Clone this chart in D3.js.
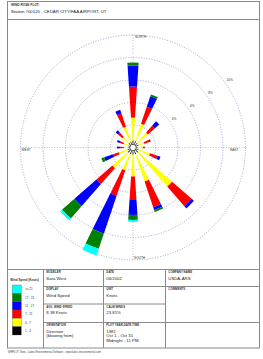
<!DOCTYPE html>
<html><head><meta charset="utf-8">
<script src="https://cdn.jsdelivr.net/npm/d3@7"></script>
<style>html,body{margin:0;padding:0;background:#fff;}svg{display:block;font-family:"Liberation Sans",Arial,sans-serif;}</style>
</head><body><svg id="c" width="263" height="359"></svg>
<script>
// ---- data ----
const directions = ["N","NNE","NE","ENE","E","ESE","SE","SSE","S","SSW","SW","WSW","W","WNW","NW","NNW"];
const speedBins = ["1 - 4","4 - 7","7 - 11","11 - 17","17 - 21",">= 21"];
const bin1to4   = [0.62,0.62,0.53,0.53,0.44,0.53,0.62,0.62,0.62,0.62,0.62,0.53,0.44,0.44,0.53,0.53];
const bin4to7   = [2.04,1.60,1.24,0.53,0.44,1.07,4.00,2.58,1.96,1.51,1.82,0.80,0.36,0.44,0.71,1.42];
const bin7to11  = [2.76,1.60,0.80,0.62,0.18,0.71,2.31,2.40,2.09,2.40,1.88,0.53,0.36,0.36,0.53,1.24];
const bin11to17 = [1.87,0.98,0.53,0.00,0.00,0.27,0.27,0.27,1.33,3.56,2.60,0.84,0.27,0.27,0.27,0.36];
const bin17to21 = [0.27,0.18,0.00,0.00,0.00,0.00,0.00,0.18,0.44,1.42,1.47,0.27,0.00,0.00,0.00,0.00];
const bin21up   = [0.00,0.00,0.00,0.00,0.00,0.00,0.00,0.00,0.18,0.62,0.22,0.00,0.00,0.00,0.00,0.00];
const ringValues = [2,4,6,8,10];
const ringLabels = ["2%","4%","6%","8%","10%"];
const compassLabels = ["NORTH","EAST","SOUTH","WEST"];
const headerTitle = "WIND ROSE PLOT:";
const headerStation = "Station #00120 - CEDAR CITY/FAA AIRPORT, UT";
const legendTitle = "Wind Speed (Knots)";
const infoCells = [
  {col:1,row:0,label:"MODELER",lines:["Sara West"]},
  {col:2,row:0,label:"DATE",lines:["06/2002"]},
  {col:3,row:0,label:"COMPANY NAME",lines:["USDA-ARS"]},
  {col:1,row:1,label:"DISPLAY",lines:["Wind Speed"]},
  {col:2,row:1,label:"UNIT",lines:["Knots"]},
  {col:3,row:1,label:"COMMENTS",lines:[]},
  {col:1,row:2,label:"AVG. WIND SPEED",lines:["8.38 Knots"]},
  {col:2,row:2,label:"CALM WINDS",lines:["23.81%"]},
  {col:1,row:3,label:"ORIENTATION",lines:["Direction","(blowing from)"]},
  {col:2,row:3,label:"PLOT YEAR-DATE-TIME",lines:["1981","Oct 1 - Oct 31","Midnight - 11 PM"]}
];
const footerText = "WRPLOT View - Lakes Environmental Software - www.lakes-environmental.com";

// ---- styles ----
const binColors = ["#000000","#ffff00","#ff0000","#0000ff","#008000","#00ffff"];
const series = [bin1to4,bin4to7,bin7to11,bin11to17,bin17to21,bin21up];

const svg = d3.select("#c");
const lineCol = "#8a8a8a";

// frame
const L = 7.5, Rt = 259.5, T = 1.5, B = 348;
svg.append("rect").attr("x",L).attr("y",T).attr("width",Rt-L).attr("height",B-T)
  .attr("fill","none").attr("stroke",lineCol).attr("stroke-width",1);
svg.append("line").attr("x1",L).attr("x2",Rt).attr("y1",19.5).attr("y2",19.5).attr("stroke",lineCol);
svg.append("text").attr("x",11).attr("y",6).attr("font-size",3.2).attr("font-weight","bold").attr("fill","#333").text(headerTitle);
svg.append("text").attr("x",11).attr("y",13).attr("font-size",4.3).attr("fill","#222").text(headerStation);

// rose
const cx = 133, cy = 147.5, R = 112.5;
const r = d3.scaleLinear().domain([0,10]).range([0,R]);
const ang = d3.scaleBand().domain(directions).range([0,2*Math.PI]);
const step = 2*Math.PI/directions.length;
const half = (7.6/2)*Math.PI/180;
const g = svg.append("g").attr("transform",`translate(${cx},${cy})`);

// grid rings
g.selectAll("circle.ring").data(ringValues).join("circle").attr("class","ring")
  .attr("r",d=>r(d)).attr("fill","none").attr("stroke","#8c8cd0").attr("stroke-width",0.8)
  .attr("stroke-dasharray","1,1.6");
// axes
g.append("line").attr("x1",0).attr("x2",0).attr("y1",-r(10)).attr("y2",r(10))
  .attr("stroke","#a8a8c8").attr("stroke-width",0.8).attr("stroke-dasharray","1,1.6");
g.append("line").attr("y1",0).attr("y2",0).attr("x1",-r(10)).attr("x2",r(10))
  .attr("stroke","#a8a8c8").attr("stroke-width",0.8).attr("stroke-dasharray","1,1.6");

// bars
const arc = d3.arc();
directions.forEach((dir,i)=>{
  const a = i*step;
  let cum = 0;
  series.forEach((s,k)=>{
    const v = s[i];
    if (v<=0) return;
    const inner = cum, outer = cum+v;
    cum = outer;
    g.append("path").attr("d",arc({innerRadius:r(inner),outerRadius:r(outer),startAngle:a-half,endAngle:a+half}))
      .attr("fill",binColors[k]);
  });
});
// center circle
g.append("circle").attr("r",3.2).attr("fill","#fff").attr("stroke","#000").attr("stroke-width",0.6);

// ring labels
const la = 54*Math.PI/180;
g.selectAll("text.rl").data(ringValues.slice(1)).join("text").attr("class","rl")
  .attr("x",d=>(r(d)+3)*Math.sin(la)).attr("y",d=>-(r(d)+3)*Math.cos(la)+1)
  .attr("font-size",3.2).attr("fill","#333").text((d,i)=>ringLabels[i+1]);

// compass labels
const cl = [
  {t:compassLabels[0],x:2,y:-R+2.5,a:"start"},
  {t:compassLabels[1],x:R-7,y:3.5,a:"end"},
  {t:compassLabels[2],x:1,y:R-1.5,a:"start"},
  {t:compassLabels[3],x:-R+1,y:3.5,a:"start"}
];
g.selectAll("text.cl").data(cl).join("text").attr("class","cl")
  .attr("x",d=>d.x).attr("y",d=>d.y).attr("text-anchor",d=>d.a)
  .attr("font-size",3.2).attr("fill","#333").text(d=>d.t);

// table
const tTop = 269.5;
const colX = [L,43.5,103.5,165.5,Rt];
const rowY = [tTop,286.5,304,322.5,B];
svg.append("line").attr("x1",L).attr("x2",Rt).attr("y1",tTop).attr("y2",tTop).attr("stroke",lineCol);
[1,2,3].forEach(c=>svg.append("line").attr("x1",colX[c]).attr("x2",colX[c]).attr("y1",tTop).attr("y2",B).attr("stroke",lineCol));
// row lines for cols 1-2
[1,2,3].forEach(j=>svg.append("line").attr("x1",colX[1]).attr("x2",colX[3]).attr("y1",rowY[j]).attr("y2",rowY[j]).attr("stroke",lineCol));
// col 3 (company/comments)
[1,3].forEach(j=>svg.append("line").attr("x1",colX[3]).attr("x2",colX[4]).attr("y1",rowY[j]).attr("y2",rowY[j]).attr("stroke",lineCol));

infoCells.forEach(c=>{
  const x = colX[c.col]+2.8, y = rowY[c.row];
  svg.append("text").attr("x",x).attr("y",y+3.8).attr("font-size",2.9).attr("font-weight","bold").attr("fill","#333").text(c.label);
  c.lines.forEach((ln,k)=>{
    svg.append("text").attr("x",x).attr("y",y+10.2+k*4.5).attr("font-size",4.3).attr("fill","#222").text(ln);
  });
});

// legend
svg.append("text").attr("x",24.5).attr("y",280.5).attr("text-anchor","middle").attr("font-size",3).attr("font-weight","bold").attr("fill","#333").text(legendTitle);
const sw = d3.scaleBand().domain(d3.range(speedBins.length)).range([285,335]);
const order = d3.range(speedBins.length).reverse();
order.forEach((k,j)=>{
  svg.append("rect").attr("x",12.3).attr("y",sw(j)).attr("width",9).attr("height",sw.bandwidth())
    .attr("fill",binColors[k]).attr("stroke","#555").attr("stroke-width",0.3);
  svg.append("text").attr("x",25).attr("y",sw(j)+sw.bandwidth()/2+1.1).attr("font-size",3).attr("fill","#333").text(speedBins[k]);
});

// footer
svg.append("text").attr("x",8).attr("y",353).attr("font-size",2.6).attr("fill","#444")
  .attr("textLength",93).attr("lengthAdjust","spacingAndGlyphs").text(footerText);
</script></body></html>
